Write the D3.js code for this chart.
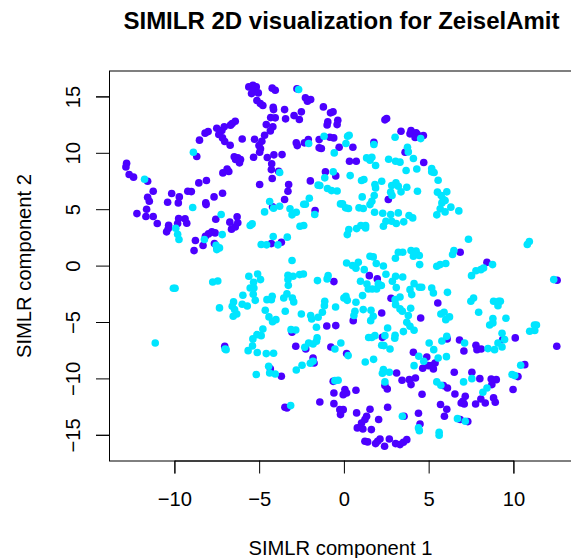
<!DOCTYPE html>
<html>
<head>
<meta charset="utf-8">
<script src="https://cdn.jsdelivr.net/npm/d3@7"></script>
<style>
  html, body { margin: 0; padding: 0; background: #fff; }
  text { font-family: "Liberation Sans", Arial, sans-serif; fill: #000; }
</style>
</head>
<body>
<div id="chart"></div>
<script>
// Tick labels and titles
const xTicks = [-10, -5, 0, 5, 10];
const yTicks = [-15, -10, -5, 0, 5, 10, 15];
const titleText = "SIMILR 2D visualization for ZeiselAmit";
const xLabel = "SIMLR component 1";
const yLabel = "SIMLR component 2";

// Points, [component 1, component 2]
const clusterPurple = [
  [-5.61,15.84],[-5.37,15.99],[-5.17,15.84],[-5.27,15.67],[-5.45,15.25],[-5.05,15.31],[-5.13,14.63],[-4.93,14.37],[-4.78,14.19],[-4.23,15.73],
  [-4.05,15.55],[-2.77,15.67],[-2.27,14.87],[-2.15,14.57],[-1.96,14.72],[-4.17,14.04],[-4.15,13.83],[-3.50,13.83],[-2.51,13.63],[-2.94,13.30],
  [-2.63,12.95],[-3.44,13.01],[-4.32,13.12],[-4.05,13.10],[-1.21,14.07],[-0.79,13.54],[-0.64,13.63],[-0.95,12.74],[-0.99,12.47],[-0.36,12.89],
  [-0.40,12.50],[-4.58,12.50],[-4.19,12.30],[-4.34,11.94],[-4.68,11.56],[-4.84,11.03],[-5.01,10.64],[-4.92,10.35],[-4.97,10.05],[-5.27,11.20],
  [-6.00,11.23],[-6.41,12.80],[-6.59,12.59],[-6.69,12.45],[-7.06,12.30],[-7.50,12.18],[-7.20,11.97],[-7.38,11.62],[-7.16,11.32],[-7.03,11.00],
  [-6.71,10.67],[-8.01,11.88],[-8.19,11.74],[-8.52,11.12],[-8.68,9.67],[-6.47,9.64],[-6.26,9.55],[-6.10,9.40],[-6.16,9.11],[-6.39,9.40],
  [-5.33,9.61],[-4.52,9.58],[-4.13,9.82],[-3.65,9.84],[-4.26,9.02],[-4.28,8.51],[-3.85,8.37],[-4.23,7.72],[-6.89,8.57],[-6.79,8.34],
  [-7.14,8.22],[-8.11,7.54],[-8.56,7.33],[-4.97,7.19],[-3.26,7.19],[-3.30,6.59],[-3.50,5.86],[-1.98,7.51],[-1.09,8.31],[-0.48,7.95],
  [-2.81,10.88],[-2.75,10.64],[-2.33,10.88],[-2.10,11.17],[-1.46,11.17],[-0.83,11.38],[-0.60,11.32],[-1.46,10.44],[-1.33,10.38],[-0.28,10.49],
  [-12.82,9.08],[-12.86,8.75],[-12.67,8.07],[-12.41,7.84],[-11.58,7.48],[-11.25,6.59],[-10.16,6.39],[-9.21,6.59],[-9.00,6.56],[-9.71,6.09],
  [-11.58,6.06],[-11.48,5.71],[-10.40,5.62],[-9.77,5.56],[-8.15,5.56],[-8.13,5.41],[-7.66,6.09],[-7.16,6.42],[-11.64,5.00],[-12.21,4.61],
  [-11.68,4.35],[-11.25,4.35],[-11.01,3.73],[-9.75,4.17],[-9.37,4.14],[-9.27,3.76],[-9.81,3.73],[-10.34,3.58],[-10.36,3.28],[-10.46,2.99],
  [-7.56,4.11],[-6.30,4.32],[-6.73,3.85],[-6.26,3.79],[-6.41,3.43],[-6.63,3.23],[-7.79,2.99],[-7.60,2.90],[-7.99,2.81],[-8.17,2.60],
  [-8.76,2.22],[-8.84,1.33],[-8.31,1.78],[-7.64,1.95],[-7.50,1.57],[-4.21,5.21],[-1.70,4.88],[-4.28,1.95],[-3.69,2.07],
  [2.52,13.04],[2.42,12.92],[3.37,11.91],[3.96,11.97],[3.90,11.68],[4.26,11.77],[4.34,11.62],[4.20,11.35],[4.69,11.53],[1.77,10.94],
  [0.53,10.49],[3.61,10.05],[0.33,9.25],[0.73,9.25],[4.71,9.14],[2.62,5.86],
  [-1.01,-5.35],[-3.06,-5.91],[-7.03,-7.15],[-2.84,-7.15],[-2.25,-7.39],[-1.82,-8.19],[-1.76,-8.63],[-3.69,-9.81],[-4.34,-9.16],[-1.42,-12.09],
  [-3.48,-12.56],[-3.36,-12.62],
  [1.50,-0.89],[1.97,-1.18],[-0.59,-1.42],[2.78,-2.90],[5.54,-3.31],[2.23,-4.20],[0.55,-4.88],[4.53,-4.64],[-0.48,-5.32],[2.27,-6.36],
  [6.82,-6.59],[6.09,-6.50],[10.11,-6.41],[9.37,-6.56],[7.79,-7.06],[7.85,-7.45],[8.10,-7.39],[7.08,-7.57],[12.56,-7.15],[12.58,-1.30],
  [4.10,-7.68],[4.89,-8.10],[5.38,-8.63],[5.18,-8.87],[4.99,-8.87],[4.65,-9.10],[5.28,-9.16],[-0.77,-7.21],[0.16,-7.80],[3.11,-9.52],
  [3.43,-10.17],[3.86,-10.11],[3.96,-10.55],[4.22,-9.96],[2.42,-10.64],[2.56,-10.94],[6.51,-9.46],[7.55,-9.46],[8.02,-10.02],[8.69,-10.05],
  [8.99,-10.11],[8.73,-10.55],[5.87,-10.64],[6.11,-10.85],[6.55,-11.38],[4.61,-11.41],[7.16,-11.59],[7.02,-12.03],[6.92,-12.18],[7.10,-12.27],
  [7.77,-12.27],[8.08,-11.82],[8.34,-12.18],[8.83,-11.73],[8.93,-12.12],[9.98,-10.99],[10.27,-9.84],[10.67,-8.78],[8.44,0.29],[-0.63,-10.26],
  [0.06,-10.99],[-0.04,-11.44],[0.16,-11.29],[0.71,-11.05],[-0.59,-11.29],[-0.59,-12.24],[-0.24,-12.77],[-0.04,-12.77],[-0.20,-13.21],[1.54,-12.74],
  [0.75,-13.06],[2.58,-12.56],[5.70,-12.32],[6.07,-12.74],[5.93,-13.36],[4.40,-13.09],[1.34,-13.36],[1.24,-13.65],[1.04,-13.95],[2.05,-13.65],
  [0.79,-14.39],[1.12,-14.48],[1.62,-14.54],[3.55,-13.36],[4.49,-14.04],[6.86,-13.65],[7.31,-13.83],[1.24,-15.57],[1.40,-15.63],[2.13,-15.37],
  [1.99,-15.57],[1.87,-15.78],[2.68,-15.37],[2.40,-16.02],[3.05,-15.78],[3.31,-15.87],[3.51,-15.66],[3.71,-15.43],[6.86,1.19]
];

const clusterCyan = [
  [-8.88,10.05],[-11.76,7.66],[-3.79,8.25],[-1.13,7.78],[-1.42,7.10],[-1.52,7.13],[-0.97,6.83],[-4.38,5.68],[-2.04,5.97],[-3.79,5.26],
  [-4.15,5.09],[-4.68,4.76],[-3.18,5.03],[-2.81,4.73],[-3.06,4.50],[-2.37,5.44],[-2.27,5.44],[-8.92,5.15],[-7.24,4.53],[-1.72,4.53],
  [-1.17,11.47],[-2.08,10.82],[-2.67,15.61],[-9.92,3.31],[-9.81,2.78],[-9.73,2.31],[-7.18,2.75],[-8.23,2.31],[-5.41,3.70],[-5.53,3.55],
  [-2.37,3.55],[-2.59,3.49],[-4.17,2.58],[-3.34,2.52],[-4.88,1.87],[-4.56,1.84],[-3.89,1.84],[-7.54,1.81],[-7.34,1.57],[-7.50,1.42],[-3.06,0.45],
  [-0.63,8.31],[-0.40,6.62],[-0.73,6.65],[-0.20,5.47],[-0.57,9.99],[0.31,11.56],[0.22,11.47],[3.02,11.38],[4.53,11.26],[0.12,10.82],
  [1.77,10.73],[3.75,10.49],[3.80,10.08],[1.34,9.55],[1.65,9.61],[1.54,9.34],[1.87,8.87],[2.64,9.43],[3.05,9.25],[3.31,9.17],
  [4.10,9.49],[3.67,8.43],[4.30,8.57],[5.18,8.60],[5.18,8.31],[5.32,8.25],[0.37,7.98],[1.18,7.63],[1.04,7.54],[2.23,7.48],
  [5.56,7.57],[1.83,7.19],[1.87,6.89],[3.07,7.33],[2.82,7.10],[3.21,7.04],[3.71,6.95],[3.37,6.54],[4.34,6.59],[2.76,6.51],
  [2.84,6.21],[1.79,6.21],[1.08,6.09],[5.52,6.51],[6.07,6.54],[5.74,6.21],[5.87,5.86],[5.97,5.77],[5.78,5.56],[1.65,5.71],
  [1.54,5.41],[-0.08,5.47],[0.10,5.12],[0.27,5.06],[0.89,5.12],[1.14,5.06],[6.31,5.18],[5.68,5.03],[6.78,4.85],[5.97,4.76],
  [5.48,4.50],[1.81,4.73],[2.29,4.64],[2.76,4.53],[3.21,4.67],[3.84,4.44],[4.06,4.23],[2.48,3.93],[2.82,3.93],[2.33,3.49],
  [3.09,3.73],[3.53,3.88],[1.00,3.55],[1.28,3.55],[1.28,3.34],[0.75,3.28],[0.29,3.20],[0.20,2.75],[7.35,2.34],[10.94,2.13],
  [10.82,1.87],[1.54,0.83],[1.73,0.77],[3.21,1.19],[3.47,1.19],[3.04,0.65],[3.96,1.33],[4.10,0.83],[4.26,1.28],[4.45,0.89],
  [6.49,1.33],[6.41,0.98],
  [-9.96,-2.01],[-10.06,-2.01],[-7.74,-1.45],[-7.44,-1.36],[-5.61,-0.95],[-5.09,-0.74],[-4.92,-1.24],[-5.33,-1.48],[-5.53,-1.98],[-5.31,-1.98],
  [-5.96,-2.63],[-5.35,-2.54],[-5.23,-3.08],[-3.30,-0.86],[-3.00,-0.95],[-2.61,-0.80],[-2.39,-0.74],[-3.30,-1.24],[-3.28,-1.75],[-1.56,-1.33],
  [-0.93,-0.89],[-0.99,-1.18],[-4.23,-2.72],[-4.54,-3.02],[-4.28,-3.02],[-3.55,-2.87],[-3.36,-2.51],[-3.04,-2.87],[-2.96,-3.22],[-1.13,-3.16],
  [-1.15,-3.55],[-7.34,-3.75],[-6.51,-3.22],[-6.59,-3.61],[-6.00,-3.43],[-5.70,-3.58],[-6.45,-3.90],[-6.32,-4.29],[-6.53,-4.49],[-4.64,-3.96],
  [-3.46,-4.05],[-2.51,-4.29],[-4.42,-4.55],[-4.01,-4.79],[-4.21,-4.97],[-1.96,-4.43],[-1.90,-4.73],[-1.52,-4.58],[-1.27,-4.14],[-1.62,-5.47],
  [-4.78,-5.62],[-3.12,-5.68],[-2.84,-5.71],[-5.13,-6.12],[-4.88,-6.21],[-5.37,-6.50],[-5.39,-7.12],[-5.65,-7.54],[-5.11,-7.71],[-4.58,-7.80],
  [-4.15,-7.77],[-1.58,-6.41],[-1.62,-6.71],[-2.08,-6.86],[-1.82,-6.95],[-2.31,-7.24],[-7.01,-7.39],[-6.95,-7.45],[-11.13,-6.86],[-4.44,-8.93],
  [-4.38,-9.52],[-4.05,-9.61],[-5.17,-9.66],[-2.81,-9.25],[-2.47,-8.84],[-1.98,-8.66],[-1.82,-8.48],[-3.14,-12.41],
  [0.16,0.23],[0.51,0.00],[0.85,0.29],[0.71,-0.24],[1.20,-0.36],[1.91,0.18],[2.33,-0.03],[2.48,-0.77],[3.05,-0.95],[3.47,-1.01],
  [2.86,-1.39],[3.09,-1.95],[0.98,-1.39],[1.36,-1.63],[1.44,-2.07],[1.67,-2.07],[1.93,-2.07],[2.03,-1.60],[2.21,-1.77],[4.14,-1.60],
  [4.45,-1.92],[4.59,-1.92],[3.90,-2.13],[4.00,-2.57],[5.18,-1.98],[5.28,-2.43],[6.11,-2.37],[4.47,0.09],[6.01,0.18],[5.68,0.09],
  [5.48,-0.06],[8.77,0.09],[8.24,-0.21],[8.08,-0.36],[7.79,-0.45],[7.53,-0.89],[12.38,-1.24],[0.12,-2.72],[0.00,-2.87],[0.20,-3.08],
  [1.10,-2.66],[-0.49,-3.67],[0.71,-3.25],[1.14,-3.90],[1.60,-3.96],[0.65,-4.05],[0.59,-4.43],[1.73,-4.49],[1.58,-4.88],[3.31,-2.78],
  [3.02,-3.02],[3.05,-3.46],[3.31,-3.84],[3.45,-4.05],[3.94,-3.78],[3.80,-4.43],[3.71,-5.03],[3.90,-5.38],[4.14,-5.73],[3.51,-5.85],
  [2.58,-5.53],[1.83,-6.21],[1.64,-6.38],[1.46,-6.38],[2.42,-6.21],[3.02,-6.18],[3.00,-6.44],[2.23,-7.06],[2.72,-7.39],[2.36,-7.09],
  [5.03,-6.86],[5.30,-7.45],[5.78,-6.68],[6.07,-6.27],[7.12,-6.86],[7.65,-2.87],[7.49,-3.16],[8.83,-3.16],[9.13,-3.16],[9.23,-3.16],
  [9.09,-3.55],[7.95,-4.14],[5.72,-4.29],[5.91,-4.14],[6.23,-4.55],[6.01,-4.79],[8.79,-4.70],[9.56,-4.67],[8.79,-5.08],[8.60,-5.26],
  [11.24,-5.26],[11.36,-5.26],[10.96,-5.82],[11.26,-5.76],[9.33,-6.00],[9.48,-6.56],[9.09,-6.86],[9.33,-7.21],[8.50,-7.36],[8.89,-7.45],
  [-0.18,-6.86],[-0.53,-7.39],[0.25,-7.98],[4.42,-8.04],[4.71,-8.48],[5.56,-8.19],[6.05,-8.07],[4.14,-8.87],[1.26,-8.54],[1.75,-8.31],
  [2.33,-9.22],[2.27,-9.55],[2.68,-9.46],[2.42,-10.31],[5.48,-10.31],[5.72,-10.61],[7.06,-10.31],[7.55,-10.02],[8.44,-10.85],[8.20,-11.23],
  [9.92,-9.66],[10.08,-9.75],[10.43,-8.84],[-0.53,-10.20],[-0.34,-10.17],[3.45,-13.36],[6.70,-13.57],[7.16,-13.80],[4.40,-14.39],[4.45,-14.63],
  [5.62,-14.78],[5.62,-15.04]
];

const width = 571;
const height = 558;
// right edge of the frame falls outside the picture, as in the original
const box = { left: 109.5, right: 574.5, top: 71, bottom: 461 };

const svg = d3.select("#chart")
  .append("svg")
  .attr("width", width)
  .attr("height", height)
  .attr("viewBox", `0 0 ${width} ${height}`)
  .style("display", "block");

const x = d3.scaleLinear().domain([-10, 10]).range([174.4, 513.4]);
const y = d3.scaleLinear().domain([-15, 15]).range([434.8, 96.4]);

// Points, purple first since cyan mostly lies on top
svg.append("g").selectAll("circle")
  .data(clusterPurple)
  .join("circle")
  .attr("cx", d => x(d[0]))
  .attr("cy", d => y(d[1]))
  .attr("r", 3.8)
  .attr("fill", "#4C00FF");

svg.append("g").selectAll("circle")
  .data(clusterCyan)
  .join("circle")
  .attr("cx", d => x(d[0]))
  .attr("cy", d => y(d[1]))
  .attr("r", 3.8)
  .attr("fill", "#00E5FF");

// Plot frame
svg.append("rect")
  .attr("x", box.left)
  .attr("y", box.top)
  .attr("width", box.right - box.left)
  .attr("height", box.bottom - box.top)
  .attr("fill", "none")
  .attr("stroke", "#000")
  .attr("stroke-width", 1);

// Axes
const minusFormat = d => String(d).replace("-", "\u2212");

const xAxis = d3.axisBottom(x)
  .tickValues(xTicks)
  .tickSizeOuter(0)
  .tickSize(13)
  .tickFormat(minusFormat);

const yAxis = d3.axisLeft(y)
  .tickValues(yTicks)
  .tickSizeOuter(0)
  .tickSize(13)
  .tickFormat(minusFormat);

const gx = svg.append("g").attr("transform", `translate(0,${box.bottom - 0.5})`).call(xAxis);
const gy = svg.append("g").attr("transform", `translate(${box.left - 0.5},0)`).call(yAxis);

gx.selectAll("text")
  .attr("font-size", 20.2)
  .attr("font-family", null)
  .attr("dy", null)
  .attr("y", 45.5);

// R writes the y tick labels sideways
gy.selectAll("text")
  .attr("font-size", 20.2)
  .attr("font-family", null)
  .attr("text-anchor", "middle")
  .attr("dy", null)
  .attr("x", 0)
  .attr("y", 0)
  .attr("transform", "translate(-29.5,0) rotate(-90)");

svg.selectAll(".tick line, .domain").attr("stroke", "#000");

// Titles
svg.append("text")
  .attr("x", 341.5)
  .attr("y", 29)
  .attr("text-anchor", "middle")
  .attr("font-size", 24)
  .attr("font-weight", "bold")
  .text(titleText);

svg.append("text")
  .attr("x", 340.5)
  .attr("y", 554.5)
  .attr("text-anchor", "middle")
  .attr("font-size", 20.2)
  .text(xLabel);

svg.append("text")
  .attr("transform", "translate(31,266) rotate(-90)")
  .attr("text-anchor", "middle")
  .attr("font-size", 20.2)
  .text(yLabel);
</script>
</body>
</html>
